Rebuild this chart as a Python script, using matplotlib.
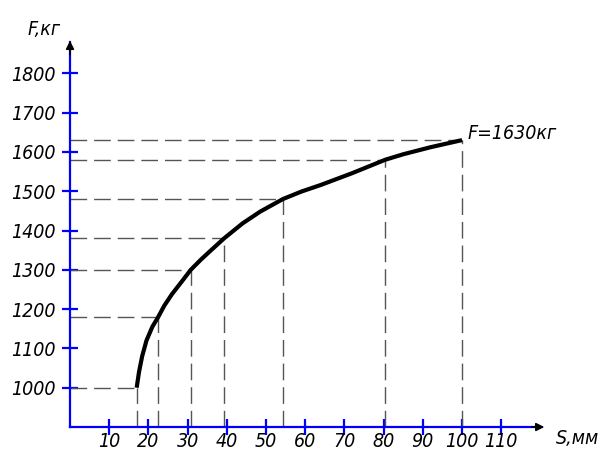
import matplotlib.pyplot as plt

# curve
s_curve = [17, 17.6, 18.4, 19.5, 21, 22.5, 24, 26, 28.5, 30.8, 33.5, 36, 39.3, 44, 48.5, 54.3, 59, 64, 72, 80.4, 85, 92, 100]
f_curve = [1000, 1040, 1080, 1120, 1155, 1180, 1208, 1238, 1270, 1300, 1327, 1350, 1380, 1418, 1448, 1480, 1499, 1516, 1546, 1580, 1594, 1612, 1630]

# marked points with dashed leaders
s_marks = [17, 22.5, 30.8, 39.3, 54.3, 80.4, 100]
f_marks = [1000, 1180, 1300, 1380, 1480, 1580, 1630]

x_ticks = [10, 20, 30, 40, 50, 60, 70, 80, 90, 100, 110]
y_ticks = [1000, 1100, 1200, 1300, 1400, 1500, 1600, 1700, 1800]

font = dict(family="DejaVu Sans", style="oblique", stretch="condensed")
blue = "#0000ff"

fig = plt.figure(figsize=(6.02, 4.57), dpi=100)
ax = fig.add_axes([0, 0, 1, 1])
ax.set_xlim(-17.86, 135.7)
ax.set_ylim(823.7, 1986.5)

# dashed leaders
for s, f in zip(s_marks, f_marks):
    ax.plot([0, s], [f, f], color="#555555", lw=1.0, ls=(0, (12, 5)))
    ax.plot([s, s], [900, f], color="#555555", lw=1.0, ls=(0, (12, 5)))

ax.plot(s_curve, f_curve, color="black", lw=3.0, solid_capstyle="butt", solid_joinstyle="round")

# axes as spines
for side in ["top", "right"]:
    ax.spines[side].set_visible(False)
ax.spines["left"].set_position(("data", 0))
ax.spines["bottom"].set_position(("data", 900))
ax.spines["left"].set_bounds(900, 1880)
ax.spines["bottom"].set_bounds(0, 120)
for side in ["left", "bottom"]:
    ax.spines[side].set_color(blue)
    ax.spines[side].set_linewidth(1.6)

ax.set_xticks(x_ticks)
ax.set_yticks(y_ticks)
ax.set_xticklabels([str(v) for v in x_ticks], **font, fontsize=14)
ax.set_yticklabels([str(v) for v in y_ticks], **font, fontsize=14)
ax.tick_params(axis="both", direction="inout", length=11, width=1.6, color=blue)
ax.tick_params(axis="x", pad=-2)
ax.tick_params(axis="y", pad=5)

# arrows
ax.annotate("", xy=(0, 1890), xytext=(0, 1840),
            arrowprops=dict(arrowstyle="-|>", color="black", lw=1.2, mutation_scale=12))
ax.annotate("", xy=(121.7, 900), xytext=(117, 900),
            arrowprops=dict(arrowstyle="-|>", color="black", lw=1.2, mutation_scale=12))

ax.text(-6.5, 1912, "F,кг", fontsize=14, ha="center", va="center", **font)
ax.text(124, 872, "S,мм", fontsize=14, ha="left", va="center", **font)
ax.text(101.5, 1648, "F=1630кг", fontsize=14, ha="left", va="center", **font)

fig.savefig("out.png", dpi=100)
